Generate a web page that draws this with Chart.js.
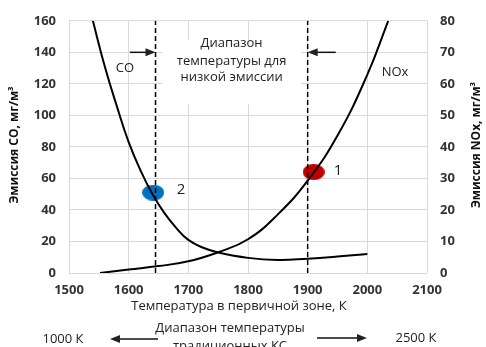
<!DOCTYPE html>
<html>
<head>
<meta charset="utf-8">
<script src="https://cdn.jsdelivr.net/npm/chart.js@4"></script>
<style>
  html, body { margin: 0; padding: 0; background: #fff; }
  #wrap { width: 486px; height: 347px; }
</style>
</head>
<body>
<div id="wrap"><canvas id="chart" width="486" height="347"></canvas></div>
<script>
// CO curve (left axis), temperature K -> mg/m3
const coTemp = [1540, 1560, 1580, 1600, 1620, 1640, 1660, 1680, 1700, 1725, 1750, 1800, 1850, 1900, 1950, 2000];
const coValues = [160, 131, 106, 83, 65, 50, 38, 28.5, 21, 16, 13, 9.6, 8.3, 9.1, 10.4, 12];

// NOx curve (right axis)
const noxTemp = [1552, 1600, 1650, 1700, 1750, 1800, 1850, 1900, 1950, 2000, 2035];
const noxValues = [0, 1.1, 2.2, 3.7, 6.6, 10.7, 18.6, 29.3, 43.6, 62.9, 80];

// low emission range borders
const rangeLow = 1645;
const rangeHigh = 1900;

// marked points
const point2 = { x: 1641, y: 51 };   // CO, left axis
const point1 = { x: 1910, y: 32 };   // NOx, right axis

const xTicks = [1500, 1600, 1700, 1800, 1900, 2000, 2100];

const FONT = "'Open Sans', 'Noto Sans', sans-serif";

function ellipse(color) {
  const c = document.createElement("canvas");
  c.width = 22;
  c.height = 16;
  const g = c.getContext("2d");
  g.fillStyle = color;
  g.beginPath();
  g.ellipse(11, 8, 11, 8, 0, 0, Math.PI * 2);
  g.fill();
  return c;
}

function toXY(xs, ys) {
  return xs.map((x, i) => ({ x: x, y: ys[i] }));
}

function arrow(ctx, x1, y, x2) {
  const dir = x2 > x1 ? 1 : -1;
  ctx.beginPath();
  ctx.moveTo(x1, y);
  ctx.lineTo(x2 - dir * 8, y);
  ctx.stroke();
  ctx.beginPath();
  ctx.moveTo(x2, y);
  ctx.lineTo(x2 - dir * 10, y - 4);
  ctx.lineTo(x2 - dir * 10, y + 4);
  ctx.closePath();
  ctx.fill();
}

const annotations = {
  id: "annotations",
  beforeDatasetsDraw(chart) {
    const ctx = chart.ctx;
    const x = chart.scales.x;
    const y = chart.scales.y;
    // white box behind the range caption
    ctx.save();
    ctx.fillStyle = "#fff";
    const l = x.getPixelForValue(rangeLow) + 7;
    const r = x.getPixelForValue(rangeHigh) - 6;
    ctx.fillRect(l, y.getPixelForValue(148), r - l, y.getPixelForValue(107) - y.getPixelForValue(148));
    ctx.restore();
  },
  afterDraw(chart) {
    const ctx = chart.ctx;
    const x = chart.scales.x;
    const y = chart.scales.y;
    ctx.save();
    ctx.fillStyle = "#222";
    ctx.strokeStyle = "#111";
    ctx.lineWidth = 1.5;
    ctx.textAlign = "center";
    ctx.textBaseline = "middle";

    // caption of the low emission range
    const cx = (x.getPixelForValue(rangeLow) + x.getPixelForValue(rangeHigh)) / 2;
    ctx.font = "13px " + FONT;
    ctx.fillText("Диапазон", cx, 43);
    ctx.fillText("температуры для", cx, 61);
    ctx.fillText("низкой эмиссии", cx, 77);

    const ay = y.getPixelForValue(140);
    arrow(ctx, x.getPixelForValue(1602), ay, x.getPixelForValue(rangeLow));
    arrow(ctx, x.getPixelForValue(1947), ay, x.getPixelForValue(rangeHigh));

    ctx.font = "13px " + FONT;
    ctx.fillText("CO", 125, 68);
    ctx.fillText("NOx", 395, 72);
    ctx.font = "15px " + FONT;
    ctx.fillText("1", 338, 171);
    ctx.fillText("2", 181, 190);

    // axis titles
    ctx.fillStyle = "#111";
    ctx.font = "bold 12px " + FONT;
    ctx.save();
    ctx.translate(15, 145);
    ctx.rotate(-Math.PI / 2);
    ctx.fillText("Эмиссия CO, мг/м³", 0, 0);
    ctx.restore();
    ctx.save();
    ctx.translate(477, 145);
    ctx.rotate(-Math.PI / 2);
    ctx.fillText("Эмиссия NOx, мг/м³", 0, 0);
    ctx.restore();

    ctx.fillStyle = "#222";
    ctx.font = "13px " + FONT;
    ctx.fillText("Температура в первичной зоне, К", 239, 306);
    ctx.fillText("Диапазон температуры", 230, 328);
    ctx.fillText("традиционных КС", 230, 346);
    ctx.fillText("1000 К", 63, 339);
    ctx.fillText("2500 К", 416, 338);
    ctx.lineWidth = 1.5;
    arrow(ctx, 158, 339, 110);
    arrow(ctx, 317, 338, 367);
    ctx.restore();
  }
};

const tickFont = { family: FONT, size: 13, weight: "bold" };

new Chart(document.getElementById("chart"), {
  type: "scatter",
  data: {
    datasets: [
      {
        label: "CO",
        data: toXY(coTemp, coValues),
        yAxisID: "y",
        showLine: true,
        borderColor: "#000",
        borderWidth: 2,
        pointRadius: 0,
        tension: 0.45
      },
      {
        label: "NOx",
        data: toXY(noxTemp, noxValues),
        yAxisID: "y2",
        showLine: true,
        borderColor: "#000",
        borderWidth: 2,
        pointRadius: 0,
        tension: 0.45
      },
      {
        label: "low",
        data: [{ x: rangeLow, y: 0 }, { x: rangeLow, y: 160 }],
        yAxisID: "y",
        showLine: true,
        borderColor: "#000",
        borderWidth: 1.5,
        borderDash: [5, 3],
        pointRadius: 0
      },
      {
        label: "high",
        data: [{ x: rangeHigh, y: 0 }, { x: rangeHigh, y: 160 }],
        yAxisID: "y",
        showLine: true,
        borderColor: "#000",
        borderWidth: 1.5,
        borderDash: [5, 3],
        pointRadius: 0
      },
      {
        label: "2",
        data: [point2],
        yAxisID: "y",
        pointStyle: ellipse("#0070C0")
      },
      {
        label: "1",
        data: [point1],
        yAxisID: "y2",
        pointStyle: ellipse("#C00000")
      }
    ]
  },
  options: {
    responsive: false,
    animation: false,
    layout: { padding: { top: 17, left: 0, right: 0, bottom: 0 } },
    plugins: {
      legend: { display: false },
      tooltip: { enabled: false }
    },
    scales: {
      x: {
        type: "linear",
        min: 1500,
        max: 2100,
        afterBuildTicks: (s) => { s.ticks = xTicks.map((v) => ({ value: v })); },
        afterFit: (s) => { s.height = 74; },
        grid: { color: "#d9d9d9", drawTicks: false },
        border: { display: false },
        ticks: { font: tickFont, color: "#333", padding: 9, callback: (v) => String(v) }
      },
      y: {
        position: "left",
        min: 0,
        max: 160,
        afterFit: (s) => { s.width = 69; },
        grid: { color: "#d9d9d9", drawTicks: false },
        border: { display: false },
        ticks: { stepSize: 20, font: tickFont, color: "#333", padding: 13 }
      },
      y2: {
        position: "right",
        min: 0,
        max: 80,
        afterFit: (s) => { s.width = 59; },
        grid: { display: false, drawTicks: false },
        border: { display: false },
        ticks: { stepSize: 10, font: tickFont, color: "#333", padding: 13 }
      }
    }
  },
  plugins: [annotations]
});
</script>
</body>
</html>
